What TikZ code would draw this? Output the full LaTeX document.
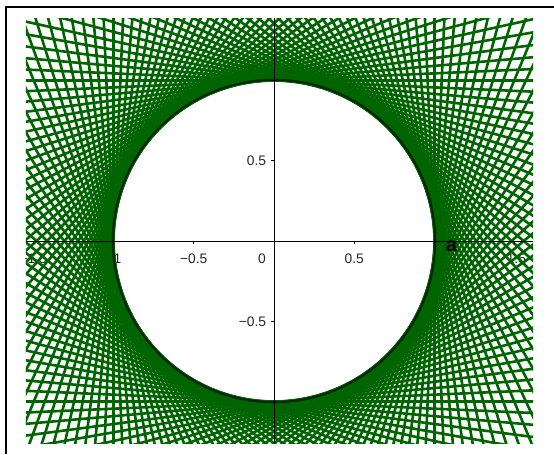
\documentclass[tikz,border=0pt]{standalone}
\usepackage{fontspec}
\setmainfont{Liberation Sans}
\usetikzlibrary{positioning}
\definecolor{envgreen}{RGB}{0,100,0}
\definecolor{ringgreen}{RGB}{0,40,0}

\begin{document}
\begin{tikzpicture}[
    x=80.25pt, y=80.25pt,
    every node/.style={font=\fontsize{6.9}{8}\selectfont, inner sep=0pt},
    tangent/.style={envgreen, line width=1.3pt},
    ring/.style={ringgreen, line width=1.1pt},
    axisline/.style={black, line width=0.5pt},
    tickmark/.style={black, line width=0.5pt},
    ticklabel/.style={text=black!85},
    pointlabel/.style={font=\fontsize{10}{11}\selectfont\bfseries, text=black},
    frameline/.style={black, line width=1pt}
  ]
  \useasboundingbox (-1.7072,-1.3271) rectangle (1.7445,1.5016);
  \fill[white] (-1.7072,-1.3271) rectangle (1.7445,1.5016);

  \coordinate (o) at (0,0);
  \coordinate (sw) at (-1.5452,-1.2586);
  \coordinate (ne) at (1.6137,1.3894);

  % window frame
  \draw[frameline] (-1.6698,-1.3271) -- (-1.6698,1.4579) -- (1.7445,1.4579);

  \begin{scope}
    \clip (sw) rectangle (ne);
    % tick labels (under the lines)
    \node[ticklabel, anchor=base] (xm15) at (-1.5,-0.137) {−1.5};
    \node[ticklabel, anchor=base] (xm1) at (-1,-0.137) {−1};
    \node[ticklabel, anchor=base] (xm05) at (-0.5,-0.137) {−0.5};
    \node[ticklabel, anchor=base] (x0) at (-0.075,-0.137) {0};
    \node[ticklabel, anchor=base] (x05) at (0.5,-0.137) {0.5};
    \node[ticklabel, anchor=base] (x15) at (1.51,-0.137) {1.5};
    \node[ticklabel, anchor=east] (y05) at (-0.047,0.5) {0.5};
    \node[ticklabel, anchor=east] (ym05) at (-0.047,-0.5) {−0.5};

    % tangent lines of the unit circle
    \foreach \k in {0,...,143} {
      \draw[tangent] ({\k*2.5}:1) ++({\k*2.5+90}:2.5) -- ++({\k*2.5-90}:5);
    }
  \end{scope}

  \draw[ring] (o) circle[radius=1.004];

  % axes
  \draw[axisline] (sw |- o) -- (ne |- o);
  \draw[axisline] (o |- sw) -- (o |- ne);
  \foreach \v in {-1.5,-1,-0.5,0.5,1,1.5}
    \draw[tickmark] (\v,0) -- (\v,-0.0187);
  \foreach \v in {-1,-0.5,0.5,1}
    \draw[tickmark] (0,\v) -- (-0.0187,\v);

  \node[pointlabel] (a) at (1.105,-0.035) {a};
\end{tikzpicture}
\end{document}
